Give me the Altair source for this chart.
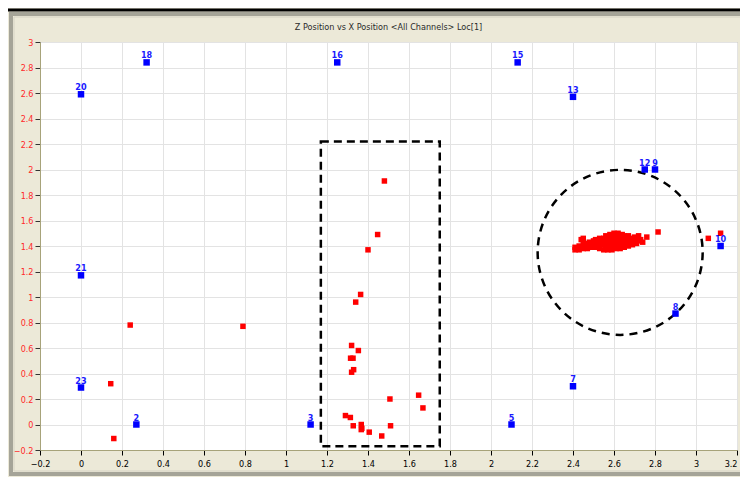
import altair as alt
import pandas as pd

# ---------------- data ----------------
sensor_ids = ["18", "16", "15", "20", "13", "12", "9", "10", "21", "8", "7", "23", "2", "3", "5"]
sensor_x = [0.32, 1.25, 2.13, 0.0, 2.40, 2.75, 2.80, 3.12, 0.0, 2.90, 2.40, 0.0, 0.27, 1.12, 2.10]
sensor_y = [2.84, 2.84, 2.84, 2.59, 2.57, 2.00, 2.00, 1.40, 1.17, 0.87, 0.30, 0.29, 0.0, 0.0, 0.0]

event_x = [0.24, 0.79, 0.145, 0.16,
           1.48, 1.447, 1.40, 1.364, 1.34, 1.32, 1.353, 1.315, 1.327, 1.33, 1.32,
           1.507, 1.647, 1.668, 1.29, 1.314, 1.328, 1.367, 1.37, 1.367, 1.51, 1.406, 1.467,
           3.06, 3.12, 2.815, 2.76]
event_y = [0.78, 0.77, 0.32, -0.11,
           1.91, 1.49, 1.37, 1.02, 0.96, 0.62, 0.58, 0.52, 0.52, 0.43, 0.41,
           0.20, 0.23, 0.13, 0.07, 0.055, -0.01, 0.0, -0.03, -0.04, -0.01, -0.06, -0.09,
           1.46, 1.50, 1.51, 1.47]

cluster_x = [2.41, 2.41, 2.42,
             2.43, 2.43, 2.44, 2.45,
             2.45, 2.45, 2.46, 2.46,
             2.47, 2.47, 2.48, 2.48,
             2.49, 2.49, 2.50, 2.50,
             2.51, 2.51, 2.51, 2.52, 2.52,
             2.53, 2.53, 2.53, 2.54, 2.54,
             2.55, 2.55, 2.55, 2.56, 2.56, 2.56,
             2.57, 2.57, 2.57, 2.58, 2.58, 2.58,
             2.59, 2.59, 2.59, 2.60, 2.60, 2.60,
             2.61, 2.61, 2.61, 2.62, 2.62, 2.62,
             2.63, 2.63, 2.63, 2.64, 2.64, 2.64,
             2.65, 2.65, 2.65, 2.66, 2.66,
             2.67, 2.67, 2.67, 2.68, 2.68,
             2.69, 2.69, 2.70, 2.70,
             2.71, 2.71, 2.72, 2.72,
             2.73, 2.74]
cluster_y = [1.37, 1.39, 1.38,
             1.37, 1.40, 1.45, 1.46,
             1.38, 1.41, 1.39, 1.42,
             1.38, 1.41, 1.40, 1.43,
             1.39, 1.42, 1.40, 1.44,
             1.39, 1.42, 1.45, 1.40, 1.44,
             1.38, 1.42, 1.46, 1.41, 1.44,
             1.37, 1.42, 1.46, 1.40, 1.44, 1.48,
             1.37, 1.42, 1.46, 1.40, 1.44, 1.49,
             1.37, 1.42, 1.46, 1.40, 1.44, 1.50,
             1.38, 1.43, 1.47, 1.41, 1.45, 1.50,
             1.38, 1.43, 1.47, 1.41, 1.45, 1.49,
             1.39, 1.44, 1.48, 1.42, 1.46,
             1.40, 1.44, 1.48, 1.42, 1.46,
             1.41, 1.45, 1.43, 1.47,
             1.42, 1.46, 1.44, 1.48,
             1.45, 1.43]

x_ticks = [-0.2, 0, 0.2, 0.4, 0.6, 0.8, 1, 1.2, 1.4, 1.6, 1.8, 2, 2.2, 2.4, 2.6, 2.8, 3, 3.2]
y_ticks = [-0.2, 0, 0.2, 0.4, 0.6, 0.8, 1, 1.2, 1.4, 1.6, 1.8, 2, 2.2, 2.4, 2.6, 2.8, 3]

box_x = [1.17]
box_x2 = [1.75]
box_y = [2.22]
box_y2 = [-0.17]

ring_x = [2.63]
ring_y = [1.35]

title_text = "Z Position vs X Position <All Channels> Loc[1]"

# ---------------- chart ----------------
FONT = "Liberation Sans Narrow, Arial Narrow, DejaVu Sans Condensed, sans-serif"
W, H = 697, 408

xs = alt.Scale(domain=[-0.2, 3.2], nice=False, zero=False)
ys = alt.Scale(domain=[-0.2, 3.0], nice=False, zero=False)

xaxis = alt.Axis(
    values=x_ticks, format=".1~f", title=None, labelColor="#000000",
    labelFont=FONT, labelFontSize=9, tickColor="#000000", tickSize=5,
    domainColor="#A7A37A", gridColor="#E3E3E3", labelPadding=4,
    labelFlush=False, labelOverlap=False,
    labelAlign=alt.expr("datum.value >= 3.19 ? 'right' : 'center'"))
yaxis = alt.Axis(
    values=y_ticks, format=".1~f", title=None, labelColor="#FF2A2A",
    labelFont=FONT, labelFontSize=9, tickColor="#333333", tickSize=5,
    domainColor="#A7A37A", gridColor="#E3E3E3", labelPadding=2,
    labelFlush=False, labelOverlap=False)


def X(f="x:Q"):
    return alt.X(f, scale=xs, axis=xaxis)


def Y(f="y:Q"):
    return alt.Y(f, scale=ys, axis=yaxis)


one = pd.DataFrame({"a": [0]})

frame = alt.Chart(one).mark_rect(fill=None, stroke="#A5A498", strokeWidth=4).encode(
    x=alt.value(-29), x2=alt.value(712), y=alt.value(-28), y2=alt.value(432))
frame_inner = alt.Chart(one).mark_rect(fill=None, stroke="#D6D3C4", strokeWidth=1).encode(
    x=alt.value(-26), x2=alt.value(712), y=alt.value(-25), y2=alt.value(429))
topline = alt.Chart(one).mark_rule(color="#000000", strokeWidth=3).encode(
    x=alt.value(-40), x2=alt.value(720), y=alt.value(-32))
title = alt.Chart(one).mark_text(font=FONT, fontSize=9, color="#2A2A2A", baseline="middle").encode(
    x=alt.value(W / 2), y=alt.value(-15), text=alt.value(title_text))

box = alt.Chart(pd.DataFrame({"x": box_x, "x2": box_x2, "y": box_y, "y2": box_y2})).mark_rect(
    fill=None, stroke="#000000", strokeWidth=2.5, strokeDash=[8, 5]).encode(
    x=X(), x2="x2:Q", y=Y(), y2="y2:Q")

ring = alt.Chart(pd.DataFrame({"x": ring_x, "y": ring_y})).mark_point(
    shape="circle", size=165 * 165, filled=False, stroke="#000000", strokeWidth=2.5,
    strokeDash=[8, 6], opacity=1).encode(x=X(), y=Y())

events = alt.Chart(pd.DataFrame({"x": event_x + cluster_x, "y": event_y + cluster_y})).mark_square(
    size=30, color="#FF0000", opacity=1).encode(x=X(), y=Y())

sdf = pd.DataFrame({"x": sensor_x, "y": sensor_y, "id": sensor_ids})
sensors = alt.Chart(sdf).mark_square(size=42, color="#0000FF", opacity=1).encode(x=X(), y=Y())
labels = alt.Chart(sdf).mark_text(font=FONT, fontSize=9, fontWeight="bold", color="#1A1AFF",
                                  dy=-4, baseline="alphabetic").encode(x=X(), y=Y(), text="id:N")

chart = alt.layer(frame, frame_inner, topline, title, box, ring, events, sensors, labels).properties(
    width=W, height=H,
    autosize=alt.AutoSizeParams(type="none"),
    padding={"left": 32, "top": 34, "right": 3, "bottom": 27},
    background="#ECE9D8",
).configure_view(fill="#FFFFFF", stroke="#A7A37A", strokeWidth=1
).configure_axis(labelOverlap=False)

chart.save("out.html", embed_options={"renderer": "svg", "actions": False})
